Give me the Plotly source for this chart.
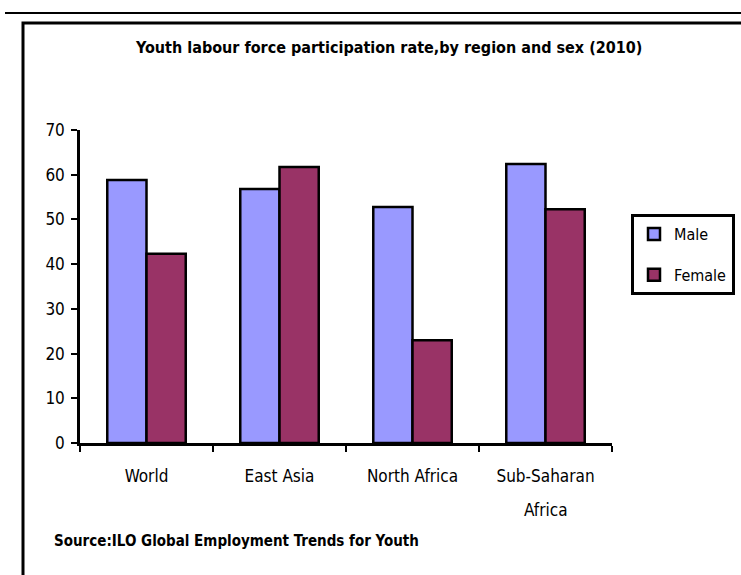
import plotly.graph_objects as go

regions = ["World", "East Asia", "North Africa", "Sub-Saharan Africa"]
male = [58.8, 56.8, 52.8, 62.4]
female = [42.3, 61.7, 23.0, 52.3]
y_ticks = [0, 10, 20, 30, 40, 50, 60, 70]

NARROW = "DejaVu Sans Condensed"

fig = go.Figure()
fig.add_trace(go.Bar(name="Male", x=regions, y=male, marker=dict(color="#9999FF", line=dict(color="black", width=2.5)), legendgroup="m"))
fig.add_trace(go.Bar(name="Female", x=regions, y=female, marker=dict(color="#993366", line=dict(color="black", width=2.5)), legendgroup="f"))

# plot area: x 80..612 px, y 130..443 px
L, R, T, B = 80, 612, 130, 443
W, H = R - L, B - T
def px(x):
    return (x - L) / W
def py(y):
    return (B - y) / H

# first line of each label as tick text, remainder as a second line below
first_lines = []
for r in regions:
    if r.startswith("Sub-Saharan"):
        first_lines.append("Sub-Saharan")
    else:
        first_lines.append(r)

fig.update_layout(
    width=741, height=575,
    margin=dict(l=L, r=741 - R, t=T, b=575 - B),
    paper_bgcolor="white", plot_bgcolor="white",
    barmode="group", bargap=0.41, bargroupgap=0,
    showlegend=True,
    legend=dict(xref="container", yref="container", x=631 / 741, y=1 - 214 / 575,
                xanchor="left", yanchor="top",
                bordercolor="black", borderwidth=3, bgcolor="white",
                font=dict(family=NARROW, size=16, color="black"),
                tracegroupgap=17, itemwidth=30),
    xaxis=dict(showline=True, linecolor="black", linewidth=2.5, ticks="outside",
               tickson="boundaries", ticklen=6, tickwidth=2, tickcolor="black",
               tickmode="array", tickvals=regions, ticktext=first_lines,
               tickfont=dict(family=NARROW, size=17, color="black"),
               ticklabelstandoff=16, showgrid=False),
    yaxis=dict(range=[0, 70], tickvals=y_ticks, showline=True, linecolor="black",
               linewidth=2.5, ticks="outside", ticklen=6, tickwidth=2, tickcolor="black",
               tickfont=dict(family=NARROW, size=17, color="black"),
               ticklabelstandoff=3, showgrid=False, zeroline=False),
    font=dict(family=NARROW, color="black"),
)

fig.add_annotation(text="Africa", xref="x", yref="paper", x=regions[3], y=py(510),
                   xanchor="center", yanchor="middle", showarrow=False,
                   font=dict(family=NARROW, size=17, color="black"))

fig.add_annotation(text="<b>Youth labour force participation rate,by region and sex (2010)</b>",
                   xref="paper", yref="paper", x=px(388), y=py(48), xanchor="center", yanchor="middle",
                   showarrow=False, font=dict(family=NARROW, size=16, color="black"))
fig.add_annotation(text="<b>Source:ILO Global Employment Trends for Youth</b>",
                   xref="paper", yref="paper", x=px(52), y=py(541), xanchor="left", yanchor="middle",
                   showarrow=False, font=dict(family=NARROW, size=15, color="black"))

# frame and top rule
fig.add_shape(type="rect", xref="paper", yref="paper", x0=px(23), x1=px(780), y0=py(620), y1=py(23),
              line=dict(color="black", width=3), fillcolor="rgba(0,0,0,0)", layer="below")
fig.add_shape(type="line", xref="paper", yref="paper", x0=px(5), x1=px(760), y0=py(13), y1=py(13),
              line=dict(color="black", width=2))

fig.write_html("out.html")
